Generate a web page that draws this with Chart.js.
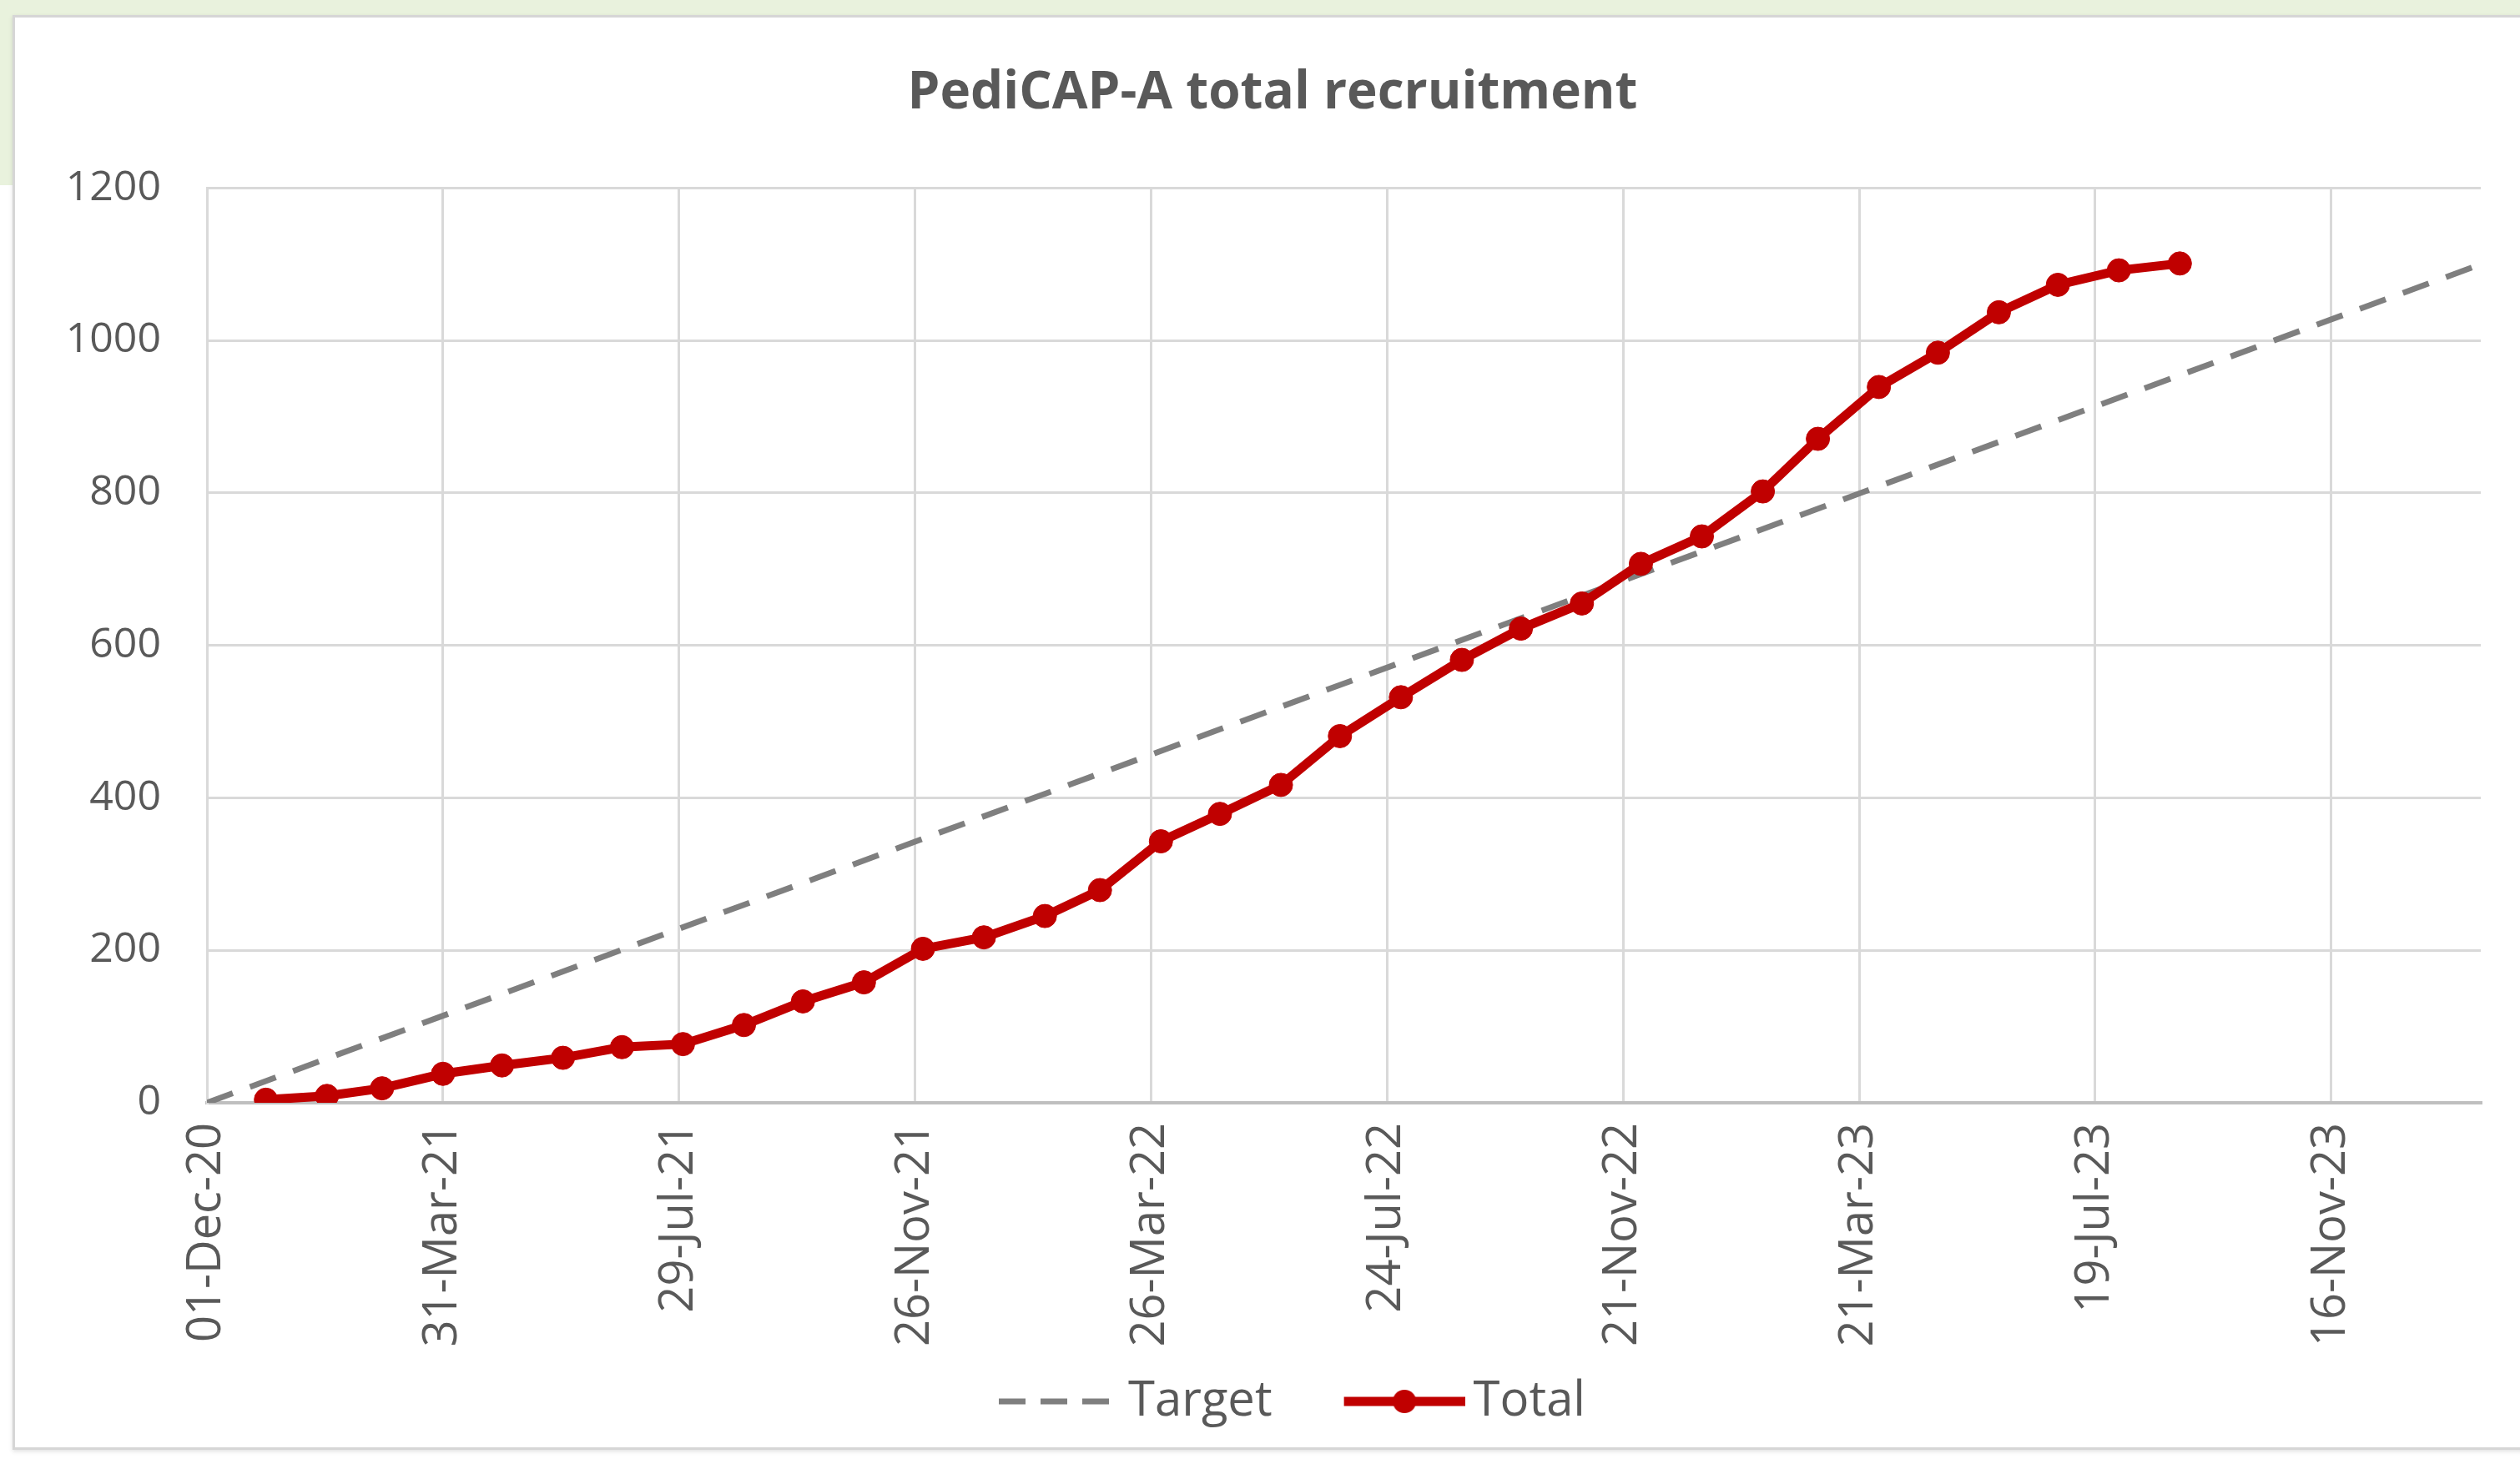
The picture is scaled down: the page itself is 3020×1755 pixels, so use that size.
<!DOCTYPE html>
<html>
<head>
<meta charset="utf-8">
<title>PediCAP-A total recruitment</title>
<script src="https://cdn.jsdelivr.net/npm/chart.js@4.4.1/dist/chart.umd.min.js"></script>
<style>
  html, body { margin: 0; padding: 0; background: #fff; }
  body { width: 3020px; height: 1755px; position: relative; overflow: hidden; }
  #band { position: absolute; left: 0; top: 0; width: 3020px; height: 222px; background: #e9f2dd; }
  #frame { position: absolute; left: 15px; top: 18px; width: 3060px; height: 1720px; box-sizing: border-box;
           background: #fff; border: 3px solid #d6d6d6; box-shadow: 0 2px 5px rgba(0,0,0,0.12); }
  #wrap { position: absolute; left: 0; top: 0; width: 3020px; height: 1755px; }
</style>
</head>
<body>
<div id="band"></div>
<div id="frame"></div>
<div id="wrap"><canvas id="recruitChart" width="3020" height="1755"></canvas></div>
<script>
// axis origin and end (dates)
const axisStart = '2020-12-01'
const axisEnd = '2024-01-31'
const tickStepDays = 120
const yTicks = [0, 200, 400, 600, 800, 1000, 1200]

// target line
const targetDates = ['2020-12-01', '2024-01-31']
const targetValues = [0, 1100]

// monthly cumulative recruitment
const totalDates = [
    '2020-12-31',
    '2021-01-31','2021-02-28','2021-03-31','2021-04-30','2021-05-31','2021-06-30',
    '2021-07-31','2021-08-31','2021-09-30','2021-10-31','2021-11-30','2021-12-31',
    '2022-01-31','2022-02-28','2022-03-31','2022-04-30','2022-05-31','2022-06-30',
    '2022-07-31','2022-08-31','2022-09-30','2022-10-31','2022-11-30','2022-12-31',
    '2023-01-31','2023-02-28','2023-03-31','2023-04-30','2023-05-31','2023-06-30',
    '2023-07-31','2023-08-31'
]
const totalValues = [
    4,
    9, 19, 38, 49, 59, 73,
    77, 102, 133, 158, 202, 217,
    245, 279, 343, 379, 417, 481,
    532, 581, 622, 655, 707, 743,
    802, 871, 939, 984, 1037, 1073,
    1092, 1101
]

const MONTHS = ['Jan','Feb','Mar','Apr','May','Jun','Jul','Aug','Sep','Oct','Nov','Dec']
const DAY = 86400000
const t0 = Date.parse(axisStart + 'T00:00:00Z')

function toDays(s){
    return Math.round((Date.parse(s + 'T00:00:00Z') - t0) / DAY)
}

function fmtDate(days){
    const d = new Date(t0 + days * DAY)
    return String(d.getUTCDate()).padStart(2, '0') + '-' + MONTHS[d.getUTCMonth()] + '-' + String(d.getUTCFullYear()).slice(2)
}

// legend swatches: line sits on the right part of the image, close to the text
function legendIcon(kind){
    const c = document.createElement('canvas')
    c.width = 211
    c.height = 40
    const g = c.getContext('2d')
    const x0 = c.width - 145, x1 = c.width, cy = c.height / 2
    if (kind === 'target'){
        g.strokeStyle = '#7f7f7f'
        g.lineWidth = 7
        g.setLineDash([32, 18])
        g.beginPath(); g.moveTo(x0, cy); g.lineTo(x1, cy); g.stroke()
    } else {
        g.strokeStyle = '#c00000'
        g.lineWidth = 11
        g.beginPath(); g.moveTo(x0, cy); g.lineTo(x1, cy); g.stroke()
        g.fillStyle = '#c00000'
        g.beginPath(); g.arc((x0 + x1) / 2, cy, 14, 0, Math.PI * 2); g.fill()
    }
    return c
}

const textColor = '#595959'
const gridColor = '#d9d9d9'

const ctx = document.getElementById('recruitChart').getContext('2d')

new Chart(ctx, {
    type: 'line',
    data: {
        datasets: [
            {
                label: 'Total',
                data: totalDates.map((d, i) => ({x: toDays(d), y: totalValues[i]})),
                borderColor: '#c00000',
                backgroundColor: '#c00000',
                borderWidth: 11,
                pointRadius: 14,
                pointBackgroundColor: '#c00000',
                pointBorderColor: '#c00000',
                pointBorderWidth: 1,
                tension: 0,
                order: 0
            },
            {
                label: 'Target',
                data: targetDates.map((d, i) => ({x: toDays(d), y: targetValues[i]})),
                borderColor: '#7f7f7f',
                borderWidth: 7,
                borderDash: [33, 22],
                pointRadius: 0,
                tension: 0,
                order: 1
            }
        ]
    },
    options: {
        responsive: false,
        animation: false,
        devicePixelRatio: 1,
        layout: {
            padding: {left: 77, right: 47, top: 0, bottom: 36}
        },
        plugins: {
            title: {
                display: true,
                text: 'PediCAP-A total recruitment',
                color: textColor,
                font: {family: 'Open Sans', size: 62, weight: 'bold'},
                padding: {top: 75, bottom: 76}
            },
            legend: {
                position: 'bottom',
                labels: {
                    usePointStyle: true,
                    pointStyleWidth: 173,
                    padding: 39,
                    color: textColor,
                    font: {family: 'Open Sans', size: 58},
                    generateLabels(){
                        return [
                            {text: 'Target', pointStyle: legendIcon('target'), fillStyle: 'rgba(0,0,0,0)', strokeStyle: 'rgba(0,0,0,0)', lineWidth: 0, fontColor: textColor, datasetIndex: 1, hidden: false},
                            {text: 'Total', pointStyle: legendIcon('total'), fillStyle: 'rgba(0,0,0,0)', strokeStyle: 'rgba(0,0,0,0)', lineWidth: 0, fontColor: textColor, datasetIndex: 0, hidden: false}
                        ]
                    }
                }
            },
            tooltip: {enabled: false}
        },
        scales: {
            x: {
                type: 'linear',
                min: 0,
                max: toDays(axisEnd),
                afterFit(scale){ scale.height = 290 },
                grid: {color: gridColor, lineWidth: 3, drawTicks: false},
                border: {color: '#bfbfbf', width: 4},
                ticks: {
                    stepSize: tickStepDays,
                    includeBounds: false,
                    autoSkip: false,
                    minRotation: 90,
                    maxRotation: 90,
                    padding: 24,
                    color: textColor,
                    font: {family: 'Open Sans', size: 56},
                    callback: (v) => fmtDate(v)
                }
            },
            y: {
                min: yTicks[0],
                max: yTicks[yTicks.length - 1],
                afterFit(scale){ scale.width = 171 },
                afterBuildTicks(scale){ scale.ticks = yTicks.map(v => ({value: v})) },
                grid: {color: gridColor, lineWidth: 3, drawTicks: false},
                border: {color: gridColor, width: 3},
                ticks: {
                    padding: 55,
                    color: textColor,
                    font: {family: 'Open Sans', size: 50},
                    callback: (v) => String(v)
                }
            }
        }
    }
})
</script>
</body>
</html>
